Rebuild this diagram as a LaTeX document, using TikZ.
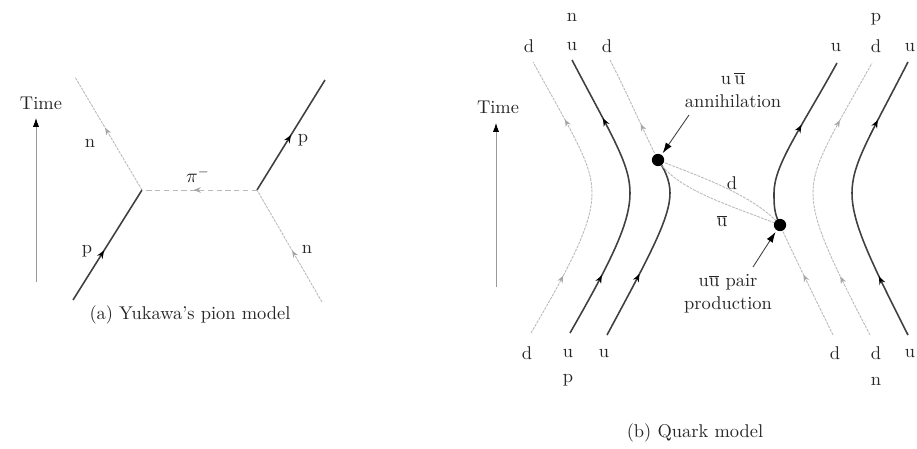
\documentclass[tikz,border=0pt]{standalone}
\usetikzlibrary{arrows.meta,decorations.markings}
\begin{document}
\begin{tikzpicture}[x={(0.02cm,0)},y={(0,-0.02cm)},
  lbl/.style={font=\fontsize{10.5}{13}\selectfont, inner sep=0pt, text=black!85},
  gline/.style={gray!55, line width=0.5pt, dash pattern=on 1.6pt off 0.6pt},
  dline/.style={black!75, line width=0.9pt},
  gmk/.style={postaction={decorate,decoration={markings,
     mark=at position #1 with {\arrow[gray!70,solid]{Stealth[length=4pt,width=3.2pt]}}}}},
  dmk/.style={postaction={decorate,decoration={markings,
     mark=at position #1 with {\arrow[black]{Stealth[length=4.5pt,width=3.6pt]}}}}},
  gmktwo/.style={postaction={decorate,decoration={markings,
     mark=at position 0.22 with {\arrow[gray!70,solid]{Stealth[length=4pt,width=3.2pt]}},
     mark=at position 0.78 with {\arrow[gray!70,solid]{Stealth[length=4pt,width=3.2pt]}}}}},
  dmktwo/.style={postaction={decorate,decoration={markings,
     mark=at position 0.22 with {\arrow[black]{Stealth[length=4.5pt,width=3.6pt]}},
     mark=at position 0.78 with {\arrow[black]{Stealth[length=4.5pt,width=3.6pt]}}}}},
  timearrow/.style={gray!80, line width=0.5pt, -{Latex[length=5pt,width=3.5pt,black]}},
  pointer/.style={black!75, line width=0.5pt, -{Latex[length=6pt,width=4pt,black]}},
  vtx/.style={circle, fill=black, inner sep=0pt, minimum size=7pt}
]
\useasboundingbox (0,0) rectangle (917,449);

% ---------------- (a) Yukawa ----------------
\coordinate (tA0) at (36,282);
\coordinate (tA1) at (36,118);
\draw[timearrow] (tA0) -- (tA1);
\node[lbl] (timeA) at (41,103) {Time};

\coordinate (L) at (142,190);
\coordinate (R) at (257,190);
\coordinate (nTL) at (75,77);
\coordinate (pBL) at (73,300);
\coordinate (pTR) at (325,80);
\coordinate (nBR) at (322,302);

\draw[gline, gmk=0.55] (L) -- (nTL);
\draw[dline, dmk=0.45] (pBL) -- (L);
\draw[gline, dash pattern=on 3pt off 2pt, gmk=0.55] (R) -- (L);
\draw[dline, dmk=0.5] (R) -- (pTR);
\draw[gline, gmk=0.46] (nBR) -- (R);

\node[lbl] (nA1) at (90,143) {n};
\node[lbl] (pA1) at (87,251) {p};
\node[lbl] (pA2) at (303,140) {p};
\node[lbl] (nA2) at (307,249) {n};
\node[lbl] (pion) at (198,175) {$\pi^-$};
\node[lbl] (capA) at (190,315) {(a) Yukawa's pion model};

% ---------------- (b) Quark model ----------------
\coordinate (tB0) at (496,287);
\coordinate (tB1) at (496,123);
\draw[timearrow] (tB0) -- (tB1);
\node[lbl] (timeB) at (498,107) {Time};

\coordinate (A) at (658,160);
\coordinate (B) at (780,225);

% left proton / neutron side
\draw[gline, gmktwo] (531,333) .. controls (575,258) and (592,222) .. (592,193)
      .. controls (592,164) and (575,138) .. (533,62);
\draw[dline, dmktwo] (570,333) .. controls (613,258) and (630,222) .. (630,193)
      .. controls (630,164) and (613,138) .. (572,60);
\draw[dline, dmk=0.36] (607,335) .. controls (650,255) and (670,218) .. (670,193)
      .. controls (670,180) and (664,168) .. (A);
\draw[gline, gmk=0.36] (A) .. controls (642,128) and (628,95) .. (610,60);

% exchanged d and anti-u
\draw[gline] (A) .. controls (692,174) and (752,193) .. (B);
\draw[gline] (A) .. controls (676,190) and (732,206) .. (B);

% right side
\draw[dline, dmk=0.6] (B) .. controls (774,213) and (774,205) .. (774,193)
      .. controls (774,165) and (800,130) .. (837,63);
\draw[gline, gmk=0.55] (833,335) .. controls (812,292) and (795,258) .. (B);
\draw[gline, gmktwo] (870,335) .. controls (830,258) and (813,222) .. (813,193)
      .. controls (813,164) and (830,138) .. (872,63);
\draw[dline, dmktwo] (908,335) .. controls (869,258) and (852,222) .. (852,193)
      .. controls (852,164) and (869,138) .. (908,62);

% vertices
\node[vtx] (Adot) at (A) {};
\node[vtx] (Bdot) at (B) {};

% pointers
\coordinate (annS) at (689,115);
\coordinate (prodS) at (753,267);
\draw[pointer, shorten >=1pt] (annS) -- (Adot);
\draw[pointer, shorten >=1pt] (prodS) -- (Bdot);

% labels
\node[lbl, align=center] (ann) at (733,90) {u\,$\overline{\mathrm{u}}$\\annihilation};
\node[lbl, align=center] (prod) at (728,294) {u$\overline{\mathrm{u}}$ pair\\production};
\node[lbl] (dlab) at (732,183) {d};
\node[lbl] (ubarlab) at (722,221) {$\overline{\mathrm{u}}$};

\node[lbl] (nTop) at (572,17) {n};
\node[lbl] (d1t) at (529,46) {d};
\node[lbl] (u1t) at (572,47) {u};
\node[lbl] (d2t) at (607,46) {d};
\node[lbl] (d1b) at (527,353) {d};
\node[lbl] (u1b) at (568,354) {u};
\node[lbl] (u2b) at (604,354) {u};
\node[lbl] (pBot) at (568,380) {p};

\node[lbl] (pTop) at (876,19) {p};
\node[lbl] (u3t) at (836,48) {u};
\node[lbl] (d3t) at (876,46) {d};
\node[lbl] (u4t) at (910,48) {u};
\node[lbl] (d3b) at (835,353) {d};
\node[lbl] (d4b) at (876,353) {d};
\node[lbl] (u3b) at (910,354) {u};
\node[lbl] (nBot) at (876,381) {n};

\node[lbl] (capB) at (695,433) {(b) Quark model};
\end{tikzpicture}
\end{document}
